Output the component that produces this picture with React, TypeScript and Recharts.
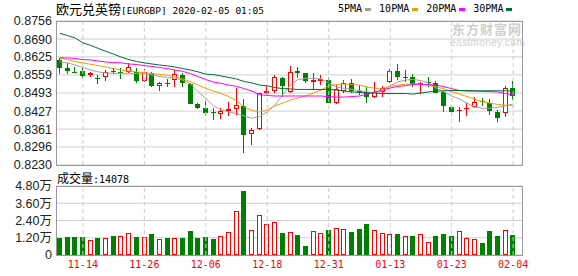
import { ComposedChart, Bar, Line, XAxis, YAxis, CartesianGrid, ReferenceLine } from 'recharts'

const DATES = [
  '11-11', '11-12', '11-13', '11-14', '11-15', '11-18', '11-19', '11-20', '11-21', '11-22',
  '11-25', '11-26', '11-27', '11-28', '11-29', '12-02', '12-03', '12-04', '12-05', '12-06',
  '12-09', '12-10', '12-11', '12-12', '12-13', '12-16', '12-17', '12-18', '12-19', '12-20',
  '12-23', '12-24', '12-26', '12-27', '12-30', '12-31', '01-02', '01-03', '01-06', '01-07',
  '01-08', '01-09', '01-10', '01-13', '01-14', '01-15', '01-16', '01-17', '01-20', '01-21',
  '01-22', '01-23', '01-24', '01-27', '01-28', '01-29', '01-30', '01-31', '02-03', '02-04',
]

const OPEN = [
  0.8614, 0.8584, 0.8569, 0.8573, 0.8558, 0.8547, 0.855, 0.8575, 0.8569, 0.857,
  0.8571, 0.8538, 0.8565, 0.852, 0.8528, 0.8539, 0.8559, 0.8525, 0.8453, 0.8438,
  0.8424, 0.8416, 0.8427, 0.8435, 0.8446, 0.8342, 0.8362, 0.8494, 0.8499, 0.8547,
  0.8496, 0.8573, 0.8565, 0.8534, 0.8537, 0.854, 0.8455, 0.8499, 0.8528, 0.8501,
  0.8498, 0.8479, 0.8498, 0.8533, 0.8573, 0.8548, 0.855, 0.8527, 0.8535, 0.8531,
  0.8498, 0.8441, 0.8428, 0.8435, 0.8441, 0.8465, 0.8458, 0.8424, 0.8419, 0.8512,
]
const HIGH = [
  0.862, 0.8604, 0.8589, 0.8583, 0.8571, 0.8559, 0.8577, 0.8583, 0.8583, 0.8604,
  0.8583, 0.858, 0.8571, 0.8534, 0.8543, 0.8577, 0.8567, 0.8528, 0.8458, 0.8467,
  0.8437, 0.8438, 0.8459, 0.851, 0.847, 0.8366, 0.8493, 0.8519, 0.8559, 0.8552,
  0.8592, 0.8587, 0.8567, 0.8567, 0.8559, 0.855, 0.8522, 0.854, 0.8543, 0.8521,
  0.8516, 0.8534, 0.8519, 0.8581, 0.8598, 0.8577, 0.8562, 0.8534, 0.8552, 0.8537,
  0.8501, 0.8449, 0.8441, 0.8455, 0.8477, 0.8474, 0.8472, 0.8431, 0.852, 0.8537,
]
const LOW = [
  0.8561, 0.8561, 0.8565, 0.8547, 0.8552, 0.8525, 0.8538, 0.8561, 0.8544, 0.8565,
  0.8531, 0.8533, 0.8516, 0.8501, 0.8516, 0.8516, 0.8516, 0.8454, 0.8435, 0.8409,
  0.8394, 0.8398, 0.8409, 0.8413, 0.8275, 0.8302, 0.8358, 0.8489, 0.8494, 0.8479,
  0.8494, 0.8547, 0.8528, 0.8504, 0.8521, 0.8455, 0.8453, 0.8494, 0.8494, 0.8486,
  0.8458, 0.8474, 0.8479, 0.8531, 0.854, 0.8534, 0.8516, 0.8489, 0.8516, 0.8494,
  0.8424, 0.8419, 0.8388, 0.8409, 0.8437, 0.8447, 0.8414, 0.8388, 0.8406, 0.8467,
]
const CLOSE = [
  0.8585, 0.8575, 0.8566, 0.8556, 0.8566, 0.8544, 0.8569, 0.8571, 0.8569, 0.8587,
  0.8538, 0.8569, 0.852, 0.8528, 0.8526, 0.8561, 0.8528, 0.8454, 0.8438, 0.8421,
  0.842, 0.8428, 0.8433, 0.8448, 0.8341, 0.8358, 0.8493, 0.8499, 0.855, 0.852,
  0.8571, 0.8567, 0.8538, 0.854, 0.8543, 0.8458, 0.8506, 0.8531, 0.8501, 0.8498,
  0.8479, 0.8498, 0.8512, 0.8573, 0.855, 0.8552, 0.8525, 0.8531, 0.8535, 0.8494,
  0.8446, 0.8424, 0.8431, 0.8439, 0.8461, 0.8461, 0.8428, 0.8401, 0.851, 0.8482,
]

const MA5 = [
  0.8607, 0.8603, 0.8595, 0.8586, 0.8577, 0.857, 0.8566, 0.8565, 0.8565, 0.8565,
  0.8564, 0.8562, 0.8559, 0.8553, 0.855, 0.8547, 0.854, 0.8526, 0.8498, 0.8473,
  0.8446, 0.8431, 0.8424, 0.8418, 0.8409, 0.8401, 0.8407, 0.8424, 0.8449, 0.8486,
  0.8522, 0.8542, 0.8546, 0.8547, 0.8544, 0.853, 0.8515, 0.851, 0.8506, 0.8502,
  0.8497, 0.8493, 0.8501, 0.8519, 0.8534, 0.854, 0.8543, 0.8538, 0.853, 0.851,
  0.8497, 0.8482, 0.8471, 0.8456, 0.8442, 0.8437, 0.8437, 0.8441, 0.8446, 0.8453,
]
const MA10 = [
  0.862, 0.8615, 0.8607, 0.8603, 0.8598, 0.8593, 0.8588, 0.8582, 0.8577, 0.8573,
  0.857, 0.8567, 0.8564, 0.8561, 0.8558, 0.8552, 0.8544, 0.8534, 0.8522, 0.851,
  0.85, 0.8491, 0.848, 0.8464, 0.8443, 0.8429, 0.8424, 0.8431, 0.8446, 0.8456,
  0.8467, 0.8475, 0.8482, 0.8493, 0.8504, 0.8519, 0.8524, 0.8526, 0.8524, 0.8522,
  0.8515, 0.851, 0.851, 0.8517, 0.8522, 0.8525, 0.8526, 0.8525, 0.852, 0.8515,
  0.8508, 0.8498, 0.8489, 0.848, 0.8471, 0.8461, 0.8456, 0.8451, 0.8449, 0.8446,
]
const MA20 = [
  0.8622, 0.8621, 0.8619, 0.8615, 0.8614, 0.861, 0.8606, 0.8604, 0.8603, 0.8599,
  0.8597, 0.8593, 0.859, 0.8586, 0.8582, 0.8577, 0.8572, 0.8564, 0.8553, 0.8542,
  0.8533, 0.8528, 0.8522, 0.8517, 0.8509, 0.85, 0.8487, 0.8484, 0.8482, 0.8482,
  0.8482, 0.8482, 0.8482, 0.8482, 0.8482, 0.848, 0.8478, 0.8478, 0.848, 0.8482,
  0.8489, 0.8497, 0.8504, 0.8511, 0.8517, 0.852, 0.8524, 0.8525, 0.8524, 0.8522,
  0.8516, 0.8509, 0.8502, 0.85, 0.85, 0.8499, 0.8498, 0.8497, 0.8491, 0.8486,
]
const MA30 = [
  0.8711, 0.8703, 0.8694, 0.8676, 0.8667, 0.8656, 0.8645, 0.8635, 0.8624, 0.8615,
  0.8608, 0.8603, 0.8599, 0.8595, 0.8592, 0.8588, 0.8582, 0.8577, 0.857, 0.8562,
  0.856, 0.8555, 0.855, 0.8544, 0.8535, 0.853, 0.8522, 0.8519, 0.8513, 0.8509,
  0.8508, 0.8506, 0.8506, 0.8506, 0.8506, 0.8506, 0.8504, 0.85, 0.8497, 0.8495,
  0.8493, 0.8493, 0.8491, 0.8491, 0.8491, 0.8491, 0.8489, 0.8493, 0.8497, 0.85,
  0.8501, 0.8502, 0.8502, 0.8502, 0.8501, 0.8501, 0.8501, 0.8501, 0.8501, 0.85,
]

const VOLUME = [
  12000, 12700, 12700, 12700, 10400, 12000, 11800, 13400, 13200, 15300,
  12500, 12400, 14800, 11100, 12000, 11800, 12000, 16900, 12000, 12700,
  11300, 13200, 16000, 30600, 44700, 17400, 27800, 21600, 23000, 15500,
  16000, 14100, 6500, 16700, 15300, 17600, 19000, 18300, 16200, 18300,
  21800, 17400, 15300, 14600, 14800, 13200, 13400, 14600, 9000, 13400,
  14800, 13400, 16700, 11800, 11100, 8600, 16900, 13400, 17400, 14078,
]

const DATE_TICKS = ['11-14', '11-26', '12-06', '12-18', '12-31', '01-13', '01-23', '02-04']
const PRICE_TICKS = [0.823, 0.8296, 0.8361, 0.8427, 0.8493, 0.8559, 0.8625, 0.869, 0.8756]
const VOLUME_TICKS = [0, 12000, 24000, 36000, 48000]

const MA_SERIES = [
  { key: 'ma5', label: '5PMA', color: '#a0a0a0' },
  { key: 'ma10', label: '10PMA', color: '#f0a000' },
  { key: 'ma20', label: '20PMA', color: '#ff00ff' },
  { key: 'ma30', label: '30PMA', color: '#006e32' },
]

const RED = '#ff0000'
const GREEN = '#008000'
const AXIS_FONT = '"Liberation Sans", Arial, "Noto Sans CJK SC", sans-serif'
const CJK_FONT = '"Noto Sans CJK SC", sans-serif'
const MONO_FONT = '"DejaVu Sans Mono", monospace'

const rows = DATES.map((date, i) => ({
  date,
  open: OPEN[i],
  high: HIGH[i],
  low: LOW[i],
  close: CLOSE[i],
  ma5: MA5[i],
  ma10: MA10[i],
  ma20: MA20[i],
  ma30: MA30[i],
  vol: VOLUME[i],
}))

function Candle(props: any) {
  const { x, y, width, height, payload } = props
  if (x == null || !payload) return null
  const top = Math.min(y, y + height)
  const h = Math.abs(height)
  const { open, close, high, low } = payload
  const span = high - low
  const py = (v: number) => (span > 0 ? top + ((high - v) / span) * h : top)
  const cx = Math.floor(x + width / 2) + 0.5
  const bodyTop = Math.round(py(Math.max(open, close)))
  let bodyBot = Math.round(py(Math.min(open, close)))
  if (bodyBot - bodyTop < 1) bodyBot = bodyTop + 1
  const wickTop = Math.round(py(high))
  const wickBot = Math.round(py(low))
  const up = close > open
  const color = up ? RED : GREEN
  return (
    <g>
      <line x1={cx} x2={cx} y1={wickTop} y2={wickBot} stroke={color} strokeWidth={1} />
      {up && bodyBot - bodyTop > 2 ? (
        <rect x={cx - 2} y={bodyTop + 0.5} width={4} height={bodyBot - bodyTop - 1} fill="#fff" stroke={color} strokeWidth={1} />
      ) : (
        <rect x={cx - 2.5} y={bodyTop} width={5} height={bodyBot - bodyTop} fill={color} />
      )}
    </g>
  )
}

function VolumeBar(props: any) {
  const { x, y, width, height, payload } = props
  if (x == null || !payload) return null
  const left = Math.floor(x + width / 2) - 2
  const top = Math.round(Math.min(y, y + height))
  const bottom = Math.round(Math.max(y, y + height))
  if (payload.close >= payload.open) {
    return <rect x={left + 0.5} y={top + 0.5} width={4} height={Math.max(bottom - top - 1, 0)} fill="#fff" stroke={RED} strokeWidth={1} />
  }
  return <rect x={left} y={top} width={5} height={bottom - top} fill={GREEN} />
}

function formatVolume(v: number): string {
  if (v === 0) return '0'
  return `${(v / 10000).toFixed(2)}万`
}

const frame = (top: number, height: number) => ({
  position: 'absolute' as const,
  left: 56,
  top,
  width: 467,
  height,
  boxSizing: 'border-box' as const,
  border: '1px solid #999',
  pointerEvents: 'none' as const,
})

export default function App() {
  return (
    <div style={{ position: 'absolute', left: 0, top: 0, width: 578, height: 276, background: '#fff', overflow: 'hidden' }}>
      <div style={{ position: 'absolute', left: 0, top: 0 }}>
        <ComposedChart width={578} height={178} data={rows} margin={{ top: 21, right: 56, bottom: 13, left: 0 }}>
          <CartesianGrid vertical={false} stroke="#d0d0d0" />
          {DATE_TICKS.map(d => (
            <ReferenceLine key={d} x={d} stroke="#cccccc" strokeDasharray="4 3" />
          ))}
          <XAxis dataKey="date" hide padding={{ left: 0, right: 5 }} />
          <YAxis
            domain={[0.823, 0.8756]}
            ticks={PRICE_TICKS}
            interval={0}
            tickFormatter={(v: number) => v.toFixed(4)}
            width={56}
            axisLine={false}
            tickLine={false}
            tickSize={0}
            tickMargin={4}
            tick={{ fill: '#222', fontSize: 12.5, fontFamily: AXIS_FONT }}
          />
          <Bar dataKey={(d: any) => [d.low, d.high]} barSize={5} shape={(p: any) => <Candle {...p} />} isAnimationActive={false} />
          {MA_SERIES.map(s => (
            <Line key={s.key} type="linear" dataKey={s.key} stroke={s.color} strokeWidth={1} dot={false} activeDot={false} isAnimationActive={false} />
          ))}
        </ComposedChart>
      </div>

      <div style={{ position: 'absolute', left: 0, top: 170 }}>
        <ComposedChart width={578} height={106} data={rows} margin={{ top: 16, right: 56, bottom: 0, left: 0 }}>
          <CartesianGrid vertical={false} stroke="#d0d0d0" />
          {DATE_TICKS.map(d => (
            <ReferenceLine key={d} x={d} stroke="#cccccc" strokeDasharray="4 3" />
          ))}
          <XAxis
            dataKey="date"
            ticks={DATE_TICKS}
            interval={0}
            height={21}
            padding={{ left: 0, right: 5 }}
            axisLine={false}
            tickLine={false}
            tickSize={0}
            tickMargin={6}
            tick={{ fill: RED, fontSize: 10, fontFamily: MONO_FONT }}
          />
          <YAxis
            domain={[0, 48000]}
            ticks={VOLUME_TICKS}
            interval={0}
            tickFormatter={formatVolume}
            width={56}
            axisLine={false}
            tickLine={false}
            tickSize={0}
            tickMargin={4}
            tick={{ fill: '#222', fontSize: 12.5, fontFamily: AXIS_FONT }}
          />
          <Bar dataKey="vol" barSize={5} shape={(p: any) => <VolumeBar {...p} />} isAnimationActive={false} />
        </ComposedChart>
      </div>

      <div style={frame(21, 145)} />
      <div style={frame(186, 70)} />

      <div style={{ position: 'absolute', left: 56, top: 2, lineHeight: '14px', color: '#000', whiteSpace: 'nowrap' }}>
        <span style={{ fontSize: 13, fontFamily: CJK_FONT }}>欧元兑英镑</span>
        <span style={{ fontSize: 9.5, fontFamily: MONO_FONT }}>[EURGBP] 2020-02-05 01:05</span>
      </div>

      <div style={{ position: 'absolute', left: 338, top: 2, lineHeight: '14px', display: 'flex', alignItems: 'center', fontSize: 10, fontFamily: MONO_FONT, color: '#000', whiteSpace: 'nowrap' }}>
        {MA_SERIES.map(s => (
          <span key={s.key} style={{ display: 'flex', alignItems: 'center', marginRight: 8 }}>
            {s.label}
            <span style={{ display: 'inline-block', width: 6.5, height: 3, background: s.color, marginLeft: 2.5 }} />
          </span>
        ))}
      </div>

      <div style={{ position: 'absolute', left: 452, top: 22, lineHeight: '13px', fontSize: 13, fontWeight: 'bold', fontFamily: CJK_FONT, color: '#cfcfcf', whiteSpace: 'nowrap', letterSpacing: 1 }}>
        东方财富网
      </div>
      <div style={{ position: 'absolute', left: 450, top: 38, lineHeight: '9px', fontSize: 10, fontFamily: AXIS_FONT, color: '#cfcfcf', whiteSpace: 'nowrap', letterSpacing: 0.4 }}>
        eastmoney.com
      </div>

      <div style={{ position: 'absolute', left: 57, top: 171, lineHeight: '13px', color: '#000', whiteSpace: 'nowrap' }}>
        <span style={{ fontSize: 12, fontFamily: CJK_FONT }}>成交量</span>
        <span style={{ fontSize: 10, fontFamily: MONO_FONT }}>:14078</span>
      </div>
    </div>
  )
}
